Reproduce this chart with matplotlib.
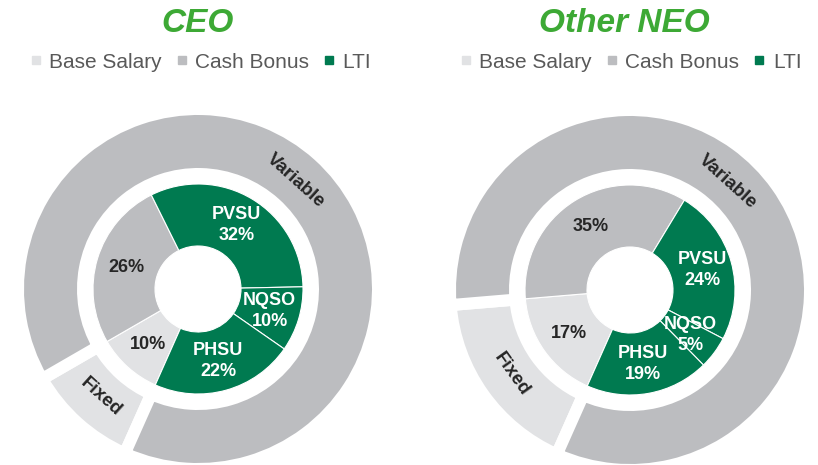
import matplotlib
matplotlib.use("Agg")
import matplotlib.pyplot as plt
from matplotlib.lines import Line2D
import math

plt.rcParams['font.family'] = ['Liberation Sans', 'DejaVu Sans']

# data
groups = ["CEO", "Other NEO"]
slice_names = ["Base Salary", "Cash Bonus", "PVSU", "NQSO", "PHSU"]
ceo_mix = [10, 26, 32, 10, 22]
neo_mix = [17, 35, 24, 5, 19]
legend_labels = ["Base Salary", "Cash Bonus", "LTI"]
ring_labels = ["Fixed", "Variable"]

# colours
light = "#e1e2e4"
grey = "#bcbdc0"
green = "#007a50"
title_green = "#3da935"
slice_colors = [light, grey, green, green, green]
text_colors = ["#262626", "#262626", "white", "white", "white"]

W, H = 818, 465
centers = [(198, H - 289), (630, H - 290)]
title_pos = [(198, H - 23), (624, H - 23)]
legend_x = [200, 630]

hole_r = 43
inner_r = 105
ring_in = 121
ring_out = 174
gap_px = 12
start = -114
variable_angle = 48

fig = plt.figure(figsize=(W / 100, H / 100), dpi=100)
ax = fig.add_axes([0, 0, 1, 1])

for i, mix in enumerate([ceo_mix, neo_mix]):
    cx, cy = centers[i]

    # outer ring: fixed vs variable, wide white gaps between the two parts
    outer = [mix[0], sum(mix[1:])]
    gap_pt = gap_px * 72 / 100
    outer_wedges, _ = ax.pie(outer, colors=[light, grey], startangle=start, counterclock=False,
                             center=(cx, cy), radius=ring_out + gap_px / 2,
                             wedgeprops=dict(width=ring_out - ring_in + gap_px,
                                             edgecolor="white", linewidth=gap_pt))

    # inner ring: pay mix
    wedges, _ = ax.pie(mix, colors=slice_colors, startangle=start, counterclock=False,
                       center=(cx, cy), radius=inner_r,
                       wedgeprops=dict(width=inner_r - hole_r, edgecolor="white", linewidth=0.8))

    label_r = (inner_r + hole_r) / 2 + 1
    for w, name, val, tc in zip(wedges, slice_names, mix, text_colors):
        a = math.radians((w.theta1 + w.theta2) / 2)
        txt = f"{val}%" if name in ("Base Salary", "Cash Bonus") else f"{name}\n{val}%"
        ax.text(cx + label_r * math.cos(a), cy + label_r * math.sin(a), txt,
                ha="center", va="center", fontsize=13, fontweight="bold",
                color=tc, linespacing=1.3)

    ring_r = (ring_in + ring_out) / 2 - 2
    fw = outer_wedges[0]
    fa = (fw.theta1 + fw.theta2) / 2
    ax.text(cx + ring_r * math.cos(math.radians(fa)), cy + ring_r * math.sin(math.radians(fa)),
            ring_labels[0], ha="center", va="center", fontsize=13.5, fontweight="bold",
            color="#262626", rotation=fa + 90, rotation_mode="anchor")
    ax.text(cx + ring_r * math.cos(math.radians(variable_angle)),
            cy + ring_r * math.sin(math.radians(variable_angle)),
            ring_labels[1], ha="center", va="center", fontsize=13.5, fontweight="bold",
            color="#262626", rotation=variable_angle - 90, rotation_mode="anchor")

    tx, ty = title_pos[i]
    ax.text(tx, ty, groups[i], ha="center", va="center", fontsize=24,
            fontweight="bold", fontstyle="italic", color=title_green)

    handles = [Line2D([], [], marker="s", linestyle="", color=c, markersize=6)
               for c in [light, grey, green]]
    fig.legend(handles, legend_labels, loc="center", ncol=3, frameon=False,
               bbox_to_anchor=(legend_x[i] / W, 1 - 62 / H), fontsize=15,
               handlelength=0.7, handletextpad=0.3, columnspacing=0.6,
               labelcolor="#595959", borderaxespad=0)

ax.set_xlim(0, W)
ax.set_ylim(0, H)
ax.set_aspect("equal")
ax.axis("off")

fig.savefig("out.png", dpi=100)
